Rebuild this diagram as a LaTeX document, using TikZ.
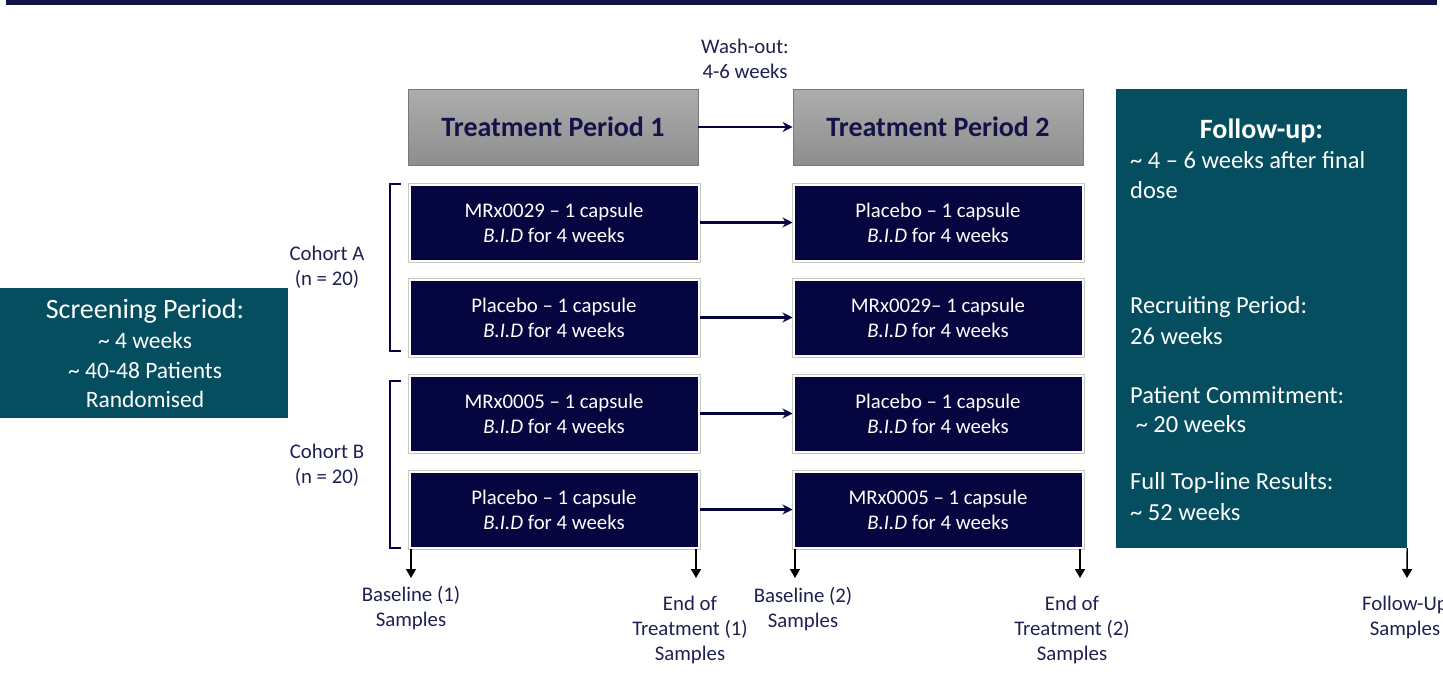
\documentclass[tikz,border=0pt]{standalone}
\usepackage{fontspec}
\setmainfont{Carlito}
\usetikzlibrary{arrows.meta}
\definecolor{navyfill}{RGB}{5,5,64}
\definecolor{navytext}{RGB}{30,32,80}
\definecolor{headtext}{RGB}{19,19,71}
\definecolor{tealbox}{RGB}{4,78,95}
\definecolor{topbar}{RGB}{17,20,73}
\definecolor{graytop}{RGB}{173,173,173}
\definecolor{graybot}{RGB}{142,142,142}
\definecolor{grayedge}{RGB}{120,120,120}
\definecolor{ringgray}{RGB}{200,200,200}
\tikzset{
  headbox/.style={draw=grayedge, line width=0.8pt, top color=graytop, bottom color=graybot,
    minimum width=290pt, minimum height=76pt, inner sep=0pt, text=headtext,
    font=\fontsize{28}{30}\selectfont\bfseries},
  trtbox/.style={preaction={draw=ringgray, line width=4pt}, draw=white, line width=2pt,
    fill=navyfill, minimum width=289pt, minimum height=76pt, inner sep=0pt, text=white,
    align=center, font=\fontsize{20.8}{25}\selectfont},
  tealrect/.style={fill=tealbox, inner sep=0pt},
  lbl/.style={text=navytext, align=center, inner sep=0pt, font=\fontsize{20.8}{25}\selectfont},
  fup/.style={text=white, anchor=west, inner sep=0pt, font=\fontsize{24.5}{29}\selectfont},
  navyarrow/.style={draw=navyfill, line width=2.2pt, -{Stealth[length=10pt,width=10pt]}},
  downarrow/.style={draw=black, line width=1.4pt, -{Triangle[length=9pt,width=10pt]}},
  bracket/.style={draw=navyfill, line width=2pt}
}
\begin{document}
\begin{tikzpicture}[x=1pt,y=-1pt]
\useasboundingbox (0,0) rectangle (1443,683);
% top bar
\fill[topbar] (6,0) rectangle (1437,5);

% header boxes
\node[headbox] (tp1) at (553,127) {Treatment Period 1};
\node[headbox] (tp2) at (938,127) {Treatment Period 2};
\node[lbl] (wash) at (745,58.5) {Wash-out:\\4-6 weeks};
\draw[navyarrow] (tp1.east) -- (tp2.west);

% treatment boxes
\node[trtbox] (a1) at (554,222.5) {MRx0029 -- 1 capsule\\\textit{B.I.D} for 4 weeks};
\node[trtbox] (a2) at (554,317.5) {Placebo -- 1 capsule\\\textit{B.I.D} for 4 weeks};
\node[trtbox] (b1) at (554,413.5) {MRx0005 -- 1 capsule\\\textit{B.I.D} for 4 weeks};
\node[trtbox] (b2) at (554,509.5) {Placebo -- 1 capsule\\\textit{B.I.D} for 4 weeks};
\node[trtbox] (a1r) at (938,222.5) {Placebo -- 1 capsule\\\textit{B.I.D} for 4 weeks};
\node[trtbox] (a2r) at (938,317.5) {MRx0029-- 1 capsule\\\textit{B.I.D} for 4 weeks};
\node[trtbox] (b1r) at (938,413.5) {Placebo -- 1 capsule\\\textit{B.I.D} for 4 weeks};
\node[trtbox] (b2r) at (938,509.5) {MRx0005 -- 1 capsule\\\textit{B.I.D} for 4 weeks};
\draw[navyarrow] (a1.east) -- (a1r.west);
\draw[navyarrow] (a2.east) -- (a2r.west);
\draw[navyarrow] (b1.east) -- (b1r.west);
\draw[navyarrow] (b2.east) -- (b2r.west);

% brackets and cohort labels
\coordinate (ba1) at (401,184);
\coordinate (ba2) at (401,351);
\coordinate (bb1) at (401,381);
\coordinate (bb2) at (401,548);
\draw[bracket] (ba1) -- (390,184) -- (390,351) -- (ba2);
\draw[bracket] (bb1) -- (390,381) -- (390,548) -- (bb2);
\node[lbl] (coha) at (327,267) {Cohort A\\(n = 20)};
\node[lbl] (cohb) at (327,465) {Cohort B\\(n = 20)};

% screening box
\node[tealrect, minimum width=288pt, minimum height=130pt] (scr) at (144,353) {};
\node[text=white, inner sep=0pt, font=\fontsize{28}{30}\selectfont] (scr1) at (145,311) {Screening Period:};
\node[text=white, align=center, inner sep=0pt, font=\fontsize{23.5}{29.3}\selectfont] (scr2) at (145,370) {\textasciitilde{} 4 weeks\\\textasciitilde{} 40-48 Patients\\Randomised};

% follow-up box
\node[tealrect, minimum width=291pt, minimum height=459pt] (fu) at (1261.5,318.5) {};
\node[text=white, inner sep=0pt, font=\fontsize{28}{30}\selectfont\bfseries] (fuh) at (1261.5,131) {Follow-up:};
\node[fup] (fu1) at (1130,160) {\textasciitilde{} 4 -- 6 weeks after final};
\node[fup] (fu2) at (1130,190) {dose};
\node[fup] (fu3) at (1130,307) {Recruiting Period:};
\node[fup] (fu4) at (1130,336) {26 weeks};
\node[fup] (fu5) at (1130,395) {Patient Commitment:};
\node[fup] (fu6) at (1130,424) {\ \textasciitilde{} 20 weeks};
\node[fup] (fu7) at (1130,483) {Full Top-line Results:};
\node[fup] (fu8) at (1130,512) {\textasciitilde{} 52 weeks};

% sample arrows
\coordinate (s1) at (411,578);
\coordinate (s2) at (696,578);
\coordinate (s3) at (795,578);
\coordinate (s4) at (1080,578);
\coordinate (s5) at (1407,578);
\draw[downarrow] (b2.south west -| s1) -- (s1);
\draw[downarrow] (b2.south east -| s2) -- (s2);
\draw[downarrow] (b2r.south west -| s3) -- (s3);
\draw[downarrow] (b2r.south east -| s4) -- (s4);
\draw[downarrow] (fu.south east) -- (s5);

\node[lbl] (l1) at (411,608.5) {Baseline (1)\\Samples};
\node[lbl] (l2) at (690,630) {End of\\Treatment (1)\\Samples};
\node[lbl] (l3) at (803,609.5) {Baseline (2)\\Samples};
\node[lbl] (l4) at (1072,630) {End of\\Treatment (2)\\Samples};
\node[lbl] (l5) at (1405,617.5) {Follow-Up\\Samples};
\end{tikzpicture}
\end{document}
